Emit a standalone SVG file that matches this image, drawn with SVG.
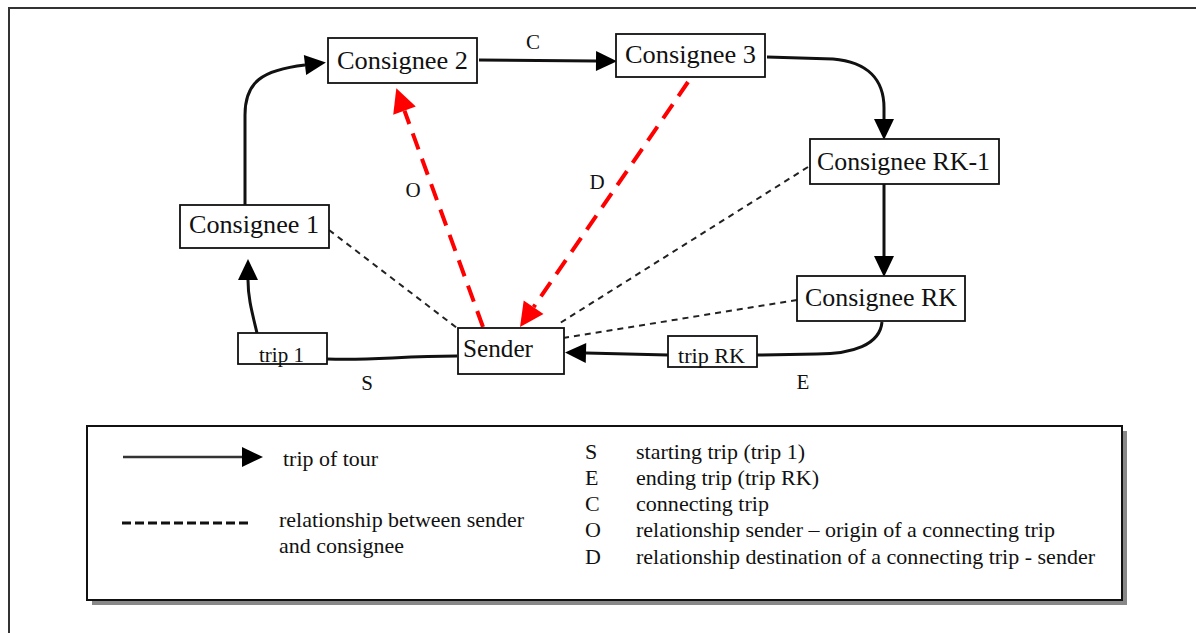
<svg xmlns="http://www.w3.org/2000/svg" width="1196" height="633" viewBox="0 0 1196 633" font-family="'Liberation Serif', Tinos, 'DejaVu Serif', 'Noto Serif', 'Times New Roman', serif">
<style>
text{font-family:"Liberation Serif",Tinos,"DejaVu Serif","Noto Serif","Times New Roman",serif;fill:#111}
.box{fill:#fff;stroke:#111;stroke-width:1.8}
.nt{font-size:26px;text-anchor:middle}
.tt{font-size:21px;text-anchor:middle}
.lbl{font-size:21px;text-anchor:middle}
.leg{font-size:22px}
.trip{fill:none;stroke:#111;stroke-width:3}
.rel{fill:none;stroke:#222;stroke-width:2;stroke-dasharray:6 5}
.red{fill:none;stroke:#f00;stroke-width:4;stroke-dasharray:17 10}
</style>
<defs>
<marker id="ah" markerUnits="userSpaceOnUse" markerWidth="22" markerHeight="22" refX="0" refY="10" orient="auto" overflow="visible">
<path d="M0,0 L21,10 L0,20 Z" fill="#000"/>
</marker>
<marker id="ahr" markerUnits="userSpaceOnUse" markerWidth="26" markerHeight="26" refX="0" refY="12" orient="auto" overflow="visible">
<path d="M0,0 L24,12 L0,24 Z" fill="#f00"/>
</marker>
</defs>
<rect width="1196" height="633" fill="#fff"/>
<g id="frame">
<path d="M9,633 L9,8 L1196,8" fill="none" stroke="#333" stroke-width="2"/>
</g>
<g id="connectors">
<path class="trip" d="M257,333 C252,312 248,298 248,280" marker-end="url(#ah)"/>
<path class="trip" d="M245,205 L245,115 C245,82 262,70 305,65" marker-end="url(#ah)"/>
<path class="trip" d="M479,60 L596,61" marker-end="url(#ah)"/>
<path class="trip" d="M767,57 L833,59 C868,62 884,80 884,108 L884,119" marker-end="url(#ah)"/>
<path class="trip" d="M884,184 L884,256" marker-end="url(#ah)"/>
<path class="trip" d="M882,322 C880,345 852,354 817,354 L757,355"/>
<path class="trip" d="M668,355 L586,353" marker-end="url(#ah)"/>
<path class="trip" d="M327,359 C370,361 400,356 457,356"/>
<path class="rel" d="M329,230 L457,328"/>
<path class="rel" d="M808,167 L560,323"/>
<path class="rel" d="M797,300 L563,338"/>
<path class="red" d="M483,327 L404.5,110.7" marker-end="url(#ahr)"/>
<path class="red" d="M688,82 L533.6,307.2" marker-end="url(#ahr)"/>
<text class="lbl" x="533" y="49">C</text>
<text class="lbl" x="413" y="197">O</text>
<text class="lbl" x="597" y="189">D</text>
<text class="lbl" x="367" y="390">S</text>
<text class="lbl" x="803" y="389">E</text>
</g>
<g id="consignee2"><rect class="box" x="328" y="38" width="149" height="45"/><text class="nt" x="402.5" y="69" textLength="131" lengthAdjust="spacingAndGlyphs">Consignee 2</text></g>
<g id="consignee3"><rect class="box" x="616" y="34" width="149" height="43"/><text class="nt" x="690.5" y="63" textLength="131" lengthAdjust="spacingAndGlyphs">Consignee 3</text></g>
<g id="consigneeRK1"><rect class="box" x="810" y="139" width="189" height="45"/><text class="nt" x="903.5" y="170" textLength="173" lengthAdjust="spacingAndGlyphs">Consignee RK-1</text></g>
<g id="consignee1"><rect class="box" x="180" y="205" width="149" height="43"/><text class="nt" x="254" y="233" textLength="130" lengthAdjust="spacingAndGlyphs">Consignee 1</text></g>
<g id="consigneeRK"><rect class="box" x="797" y="276" width="168" height="45"/><text class="nt" x="881" y="306" textLength="152" lengthAdjust="spacingAndGlyphs">Consignee RK</text></g>
<g id="sender"><rect class="box" x="458" y="328" width="106" height="46"/><text class="nt" x="498" y="357" textLength="70" lengthAdjust="spacingAndGlyphs">Sender</text></g>
<g id="trip1"><rect class="box" x="238" y="333" width="89" height="31"/><text class="tt" x="281.5" y="362" textLength="45" lengthAdjust="spacingAndGlyphs">trip 1</text></g>
<g id="tripRK"><rect class="box" x="668" y="336" width="89" height="31"/><text class="tt" x="711.5" y="363" textLength="67" lengthAdjust="spacingAndGlyphs">trip RK</text></g>
<g id="legend">
<rect x="92" y="431" width="1035" height="174" fill="#888"/>
<rect x="87" y="426" width="1035" height="174" fill="#fff" stroke="#111" stroke-width="2"/>
<path d="M123,457 L242,457" stroke="#333" stroke-width="2.5" fill="none" marker-end="url(#ah)"/>
<path d="M122,523 L248,523" stroke="#111" stroke-width="3" stroke-dasharray="9 4" fill="none"/>
<text class="leg" x="283" y="466" textLength="95" lengthAdjust="spacingAndGlyphs">trip of tour</text>
<text class="leg" x="279" y="527" textLength="245" lengthAdjust="spacingAndGlyphs">relationship between sender</text>
<text class="leg" x="279" y="553" textLength="125" lengthAdjust="spacingAndGlyphs">and consignee</text>
<text class="leg" x="585" y="459">S</text>
<text class="leg" x="636" y="459" textLength="169" lengthAdjust="spacingAndGlyphs">starting trip (trip 1)</text>
<text class="leg" x="585" y="485">E</text>
<text class="leg" x="636" y="485" textLength="183" lengthAdjust="spacingAndGlyphs">ending trip (trip RK)</text>
<text class="leg" x="585" y="511">C</text>
<text class="leg" x="636" y="511" textLength="133" lengthAdjust="spacingAndGlyphs">connecting trip</text>
<text class="leg" x="585" y="537">O</text>
<text class="leg" x="636" y="537" textLength="419" lengthAdjust="spacingAndGlyphs">relationship sender – origin of a connecting trip</text>
<text class="leg" x="585" y="564">D</text>
<text class="leg" x="636" y="564" textLength="459" lengthAdjust="spacingAndGlyphs">relationship destination of a connecting trip - sender</text>
</g>
</svg>
